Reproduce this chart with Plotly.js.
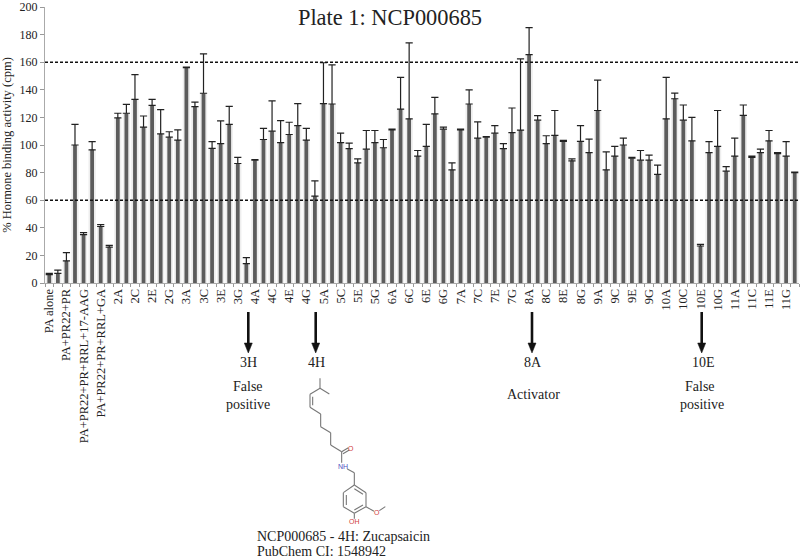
<!DOCTYPE html>
<html>
<head>
<meta charset="utf-8">
<script src="https://cdn.plot.ly/plotly-3.0.1.min.js"></script>
<style>html,body{margin:0;padding:0;background:#fff}#chart{width:800px;height:560px}</style>
</head>
<body>
<div id="chart"></div>
<script>
const controls = ["PA alone","PA+PR22","PA+PR22+PR","PA+PR22+PR+RRL","PA+PR22+PR+RRL+17-AAG","PA+PR22+PR+RRL+17-AAG (2)","PA+PR22+PR+RRL+GA","PA+PR22+PR+RRL+GA (2)"];
const plates = [2,3,4,5,6,7,8,9,10,11];
const wells = ["A","B","C","D","E","F","G","H"];
const values = [6,7,16,100,35,96.5,41,26,119.6,123,133,113,128.7,108,105.7,103.6,156,127.8,137.5,97.6,101,115,86.6,14,89,104,
110,101.7,107.6,114,103.6,63,130,129.7,101.7,97.4,87,97,101.7,98,111,126,119,92,99,122.5,111.5,82,111,129.7,105,105.7,108.6,97.4,109,110.8,165.5,
118,101,107,102.6,88.5,102.6,94.5,125,82,92,100,90.4,89,89,78.7,119,133.5,118,103,26.8,94.5,99,81,92,121.5,91,94.5,103,93.8,92,80];
const errors = [1,2.3,6,15,1.5,6,1.4,1.3,3.4,6.4,18,8,4.3,17.6,3.9,7.4,0.5,3.2,28.5,4.9,16.5,13,4.4,4.4,0.5,8,
22,16,8.9,16,8.4,11,29.6,28.3,6.9,4,3,13.5,8.8,6,0.5,23,55,4,16,12,1.5,5,0.5,10.3,11.7,0.3,5.4,3.6,17.8,51.6,19.5,
3.3,5.7,18,0.7,1.5,11.4,9.8,22,13,7,5,0.6,7,3.6,6.7,30,4.1,11,17,1.2,7.9,26,3.4,13,7.5,1,2.5,7.5,0.7,10.4,0.3];
const thresholds = [160,60];
const plotTitle = "Plate 1: NCP000685";
const yTitle = "% Hormone binding activity (cpm)";

const categories = controls.slice();
plates.forEach(p => wells.forEach(w => categories.push(p + w)));
const tickLabels = categories.map((c,i) => {
  if (i % 2) return "";
  return c;
});

const M = {l:45, r:1, t:7, b:277};
const W = 800, H = 560;
const pw = W - M.l - M.r, ph = H - M.t - M.b;
const px = x => (x - M.l) / pw;
const py = y => (H - M.b - y) / ph;
const serif = "Liberation Serif";
const shapes = [];
const annotations = [];

thresholds.forEach(v => shapes.push({type:"line",xref:"paper",yref:"y",x0:0,x1:1,y0:v,y1:v,layer:"above",
  line:{color:"#111",width:1.4,dash:"3px,2px"}}));

function seg(x0,y0,x1,y1,color,width){
  shapes.push({type:"line",xref:"paper",yref:"paper",x0:px(x0),y0:py(y0),x1:px(x1),y1:py(y1),
    line:{color:color||"#777",width:width||1.1}});
}
function arrow(x){
  seg(x,312,x,344,"#111",2.6);
  shapes.push({type:"path",xref:"paper",yref:"paper",
    path:`M ${px(x-4)} ${py(343)} L ${px(x+4)} ${py(343)} L ${px(x)} ${py(353)} Z`,
    fillcolor:"#111",line:{color:"#111",width:0.5}});
}
function label(x,y,text,size,color,anchor){
  annotations.push({xref:"paper",yref:"paper",x:px(x),y:py(y),text:text,showarrow:false,
    xanchor:anchor||"center",yanchor:"middle",font:{family:serif,size:size||14,color:color||"#222"}});
}
[248.3,315.7,532,701.7].forEach(arrow);
label(248,362,"3H"); label(316,362,"4H"); label(533,362,"8A"); label(703,362,"10E");
label(248,386,"False"); label(248,404,"positive");
label(533,394,"Activator");
label(700,386,"False"); label(702,404,"positive");
label(255,536,"NCP000685 - 4H: Zucapsaicin",14,"#222","left");
label(255,551,"PubChem CI: 1548942",14,"#222","left");

// molecule drawn from zoomed crop coordinates
const mz = (a,b,c,d,col,w) => seg(230+a/3,300+b/3,230+c/3,300+d/3,col,w);
[[270,235,270,265],[270,265,298,282],[270,265,240,283],[240,283,240,322],[248,290,248,316],[240,322,272,342],
 [272,342,272,380],[272,380,302,398],[302,398,302,435],[302,435,335,455],[335,455,335,488],[335,455,355,443],[339,461,358,450],
 [352,507,373,518],[373,518,373,555],[373,555,408,578],[408,578,408,620],[408,620,373,640],[373,640,340,620],[340,620,340,578],[340,578,373,555],
 [373,566,399,583],[399,615,373,630],[349,585,349,615],[408,620,432,634],[448,632,466,620],[373,640,373,656]
].forEach(s => mz(s[0],s[1],s[2],s[3]));
const mol = (x,y,t,c) => annotations.push({xref:"paper",yref:"paper",x:px(230+x/3),y:py(300+y/3),text:t,showarrow:false,
  xanchor:"center",yanchor:"middle",font:{family:"Liberation Sans",size:7,color:c}});
mol(363,445,"O","#d04040"); mol(340,500,"NH","#5050c0"); mol(440,637,"O","#d04040"); mol(373,665,"OH","#d04040");

const data = [
  {type:"bar",x:categories,y:values,width:0.85,marker:{color:"#eeeeee"},hoverinfo:"skip",showlegend:false},
  {type:"bar",x:categories,y:values,width:0.44,marker:{color:"#5c5c5c"},showlegend:false,
   error_y:{type:"data",symmetric:false,array:errors,arrayminus:errors.map(()=>0),color:"#222",thickness:1.2,width:3.6}}
];
const layout = {
  width:W,height:H,margin:M,paper_bgcolor:"#fff",plot_bgcolor:"#fff",
  barmode:"overlay",showlegend:false,
  font:{family:serif,color:"#222",size:12},
  title:{text:plotTitle,font:{family:serif,size:22.4,color:"#222"},x:390/W,xanchor:"center",y:1-17/H,yanchor:"middle"},
  xaxis:{type:"category",categoryorder:"array",categoryarray:categories,tickmode:"array",tickvals:categories,ticktext:tickLabels,
    tickangle:-90,tickson:"boundaries",ticks:"outside",ticklen:3,tickcolor:"#999",tickwidth:1,
    tickfont:{family:serif,size:12.5,color:"#222"},showline:true,linecolor:"#aaa",linewidth:1,showgrid:false,zeroline:false,automargin:false},
  yaxis:{range:[0,200],dtick:20,tick0:0,ticks:"outside",ticklen:4,tickcolor:"#999",tickwidth:1,ticklabeloverflow:"allow",
    tickfont:{family:serif,size:12,color:"#222"},showline:true,linecolor:"#aaa",linewidth:1.2,showgrid:false,zeroline:false,
    automargin:false,title:{text:yTitle,font:{family:serif,size:12.5,color:"#222"},standoff:8}},
  shapes:shapes,annotations:annotations
};
Plotly.newPlot("chart",data,layout,{displayModeBar:false,staticPlot:true});
</script>
</body>
</html>
